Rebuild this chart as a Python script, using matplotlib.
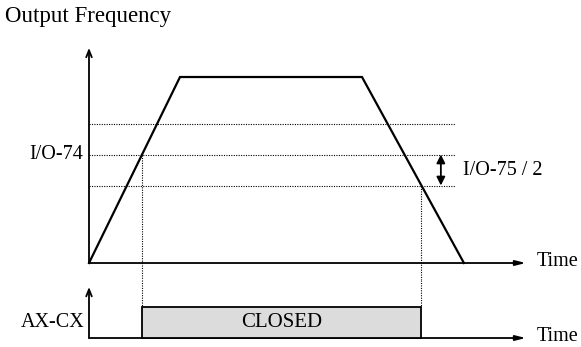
import matplotlib
matplotlib.use('Agg')
import matplotlib.pyplot as plt
import numpy as np

plt.rcParams['font.family'] = ['Liberation Serif', 'DejaVu Serif']

# output frequency profile (time in s, frequency in Hz)
profile_t = [0.0, 3.0, 9.0, 12.36]
profile_f = [0.0, 60.0, 60.0, 0.0]
io74_level = 35.0          # I/O-74 detection level
io75_half = 10.0           # I/O-75 / 2 band
closed_state = 1.0         # relay state while closed

labels = {'y_top': 'Output Frequency', 'x': 'Time', 'io74': 'I/O-74',
          'io75': 'I/O-75 / 2', 'relay': 'AX-CX', 'closed': 'CLOSED'}

fig = plt.figure(figsize=(5.81, 3.47), dpi=100)
ax = fig.add_axes([0, 67 / 347, 1, 280 / 347])
ax2 = fig.add_axes([0, 0, 1, 67 / 347])
for a in (ax, ax2):
    a.set_xlim(-2.934, 16.22)
    a.axis('off')
ax.set_ylim(-5.48, 84.84)
ax2.set_ylim(-0.29, 1.87)

x_end = 14.4
band_end = 12.07
fs = 14.5
dot = dict(color='black', lw=0.8, ls=(0, (1, 1.2)))

# main axes arrows
ax.annotate('', xy=(0, 69.4), xytext=(0, 0),
            arrowprops=dict(arrowstyle='->,head_length=0.5,head_width=0.2', lw=1.3, color='black',
                            shrinkA=0, shrinkB=0))
ax.annotate('', xy=(x_end, 0), xytext=(0, 0),
            arrowprops=dict(arrowstyle='-|>,head_length=0.6,head_width=0.15', lw=1.3, color='black',
                            shrinkA=0, shrinkB=0))

# frequency profile
ax.plot(profile_t, profile_f, color='black', lw=1.6, solid_joinstyle='miter')

# detection levels
for lvl in (io74_level + io75_half, io74_level, io74_level - io75_half):
    ax.plot([0, band_end], [lvl, lvl], **dot)

# switching times from the ramps
t_on = np.interp(io74_level, profile_f[:2], profile_t[:2])
t_off = np.interp(io74_level - io75_half, profile_f[3:1:-1], profile_t[3:1:-1])

ax.plot([t_on, t_on], [io74_level, -5.48], **dot)
ax.plot([t_off, t_off], [io74_level - io75_half, -5.48], **dot)

# hysteresis arrow
ax.annotate('', xy=(11.6, io74_level), xytext=(11.6, io74_level - io75_half),
            arrowprops=dict(arrowstyle='<|-|>,head_length=0.5,head_width=0.25', lw=1.3, color='black',
                            shrinkA=0, shrinkB=0))

ax.text(-2.77, 79.4, labels['y_top'], fontsize=fs + 2, ha='left', va='center')
ax.text(-0.2, io74_level, labels['io74'], fontsize=fs, ha='right', va='center')
ax.text(12.33, io74_level - io75_half / 2, labels['io75'], fontsize=fs, ha='left', va='center')
ax.text(14.77, 0.5, labels['x'], fontsize=fs, ha='left', va='center')

# relay output
ax2.annotate('', xy=(0, 1.645), xytext=(0, 0),
             arrowprops=dict(arrowstyle='->,head_length=0.5,head_width=0.2', lw=1.3, color='black',
                             shrinkA=0, shrinkB=0))
ax2.annotate('', xy=(x_end, 0), xytext=(0, 0),
             arrowprops=dict(arrowstyle='-|>,head_length=0.6,head_width=0.15', lw=1.3, color='black',
                             shrinkA=0, shrinkB=0))
ax2.bar(t_on, closed_state, width=t_off - t_on, align='edge', color='#dcdcdc',
        edgecolor='black', lw=1.3, zorder=3)
ax2.plot([t_on, t_on], [1.87, closed_state], **dot)
ax2.plot([t_off, t_off], [1.87, closed_state], **dot)
ax2.text((t_on + t_off) / 2, closed_state / 2, labels['closed'], fontsize=fs + 0.5,
         ha='center', va='center', zorder=4)
ax2.text(-0.16, closed_state / 2, labels['relay'], fontsize=fs, ha='right', va='center')
ax2.text(14.77, 0.05, labels['x'], fontsize=fs, ha='left', va='center')

fig.savefig('out.png', dpi=100)
